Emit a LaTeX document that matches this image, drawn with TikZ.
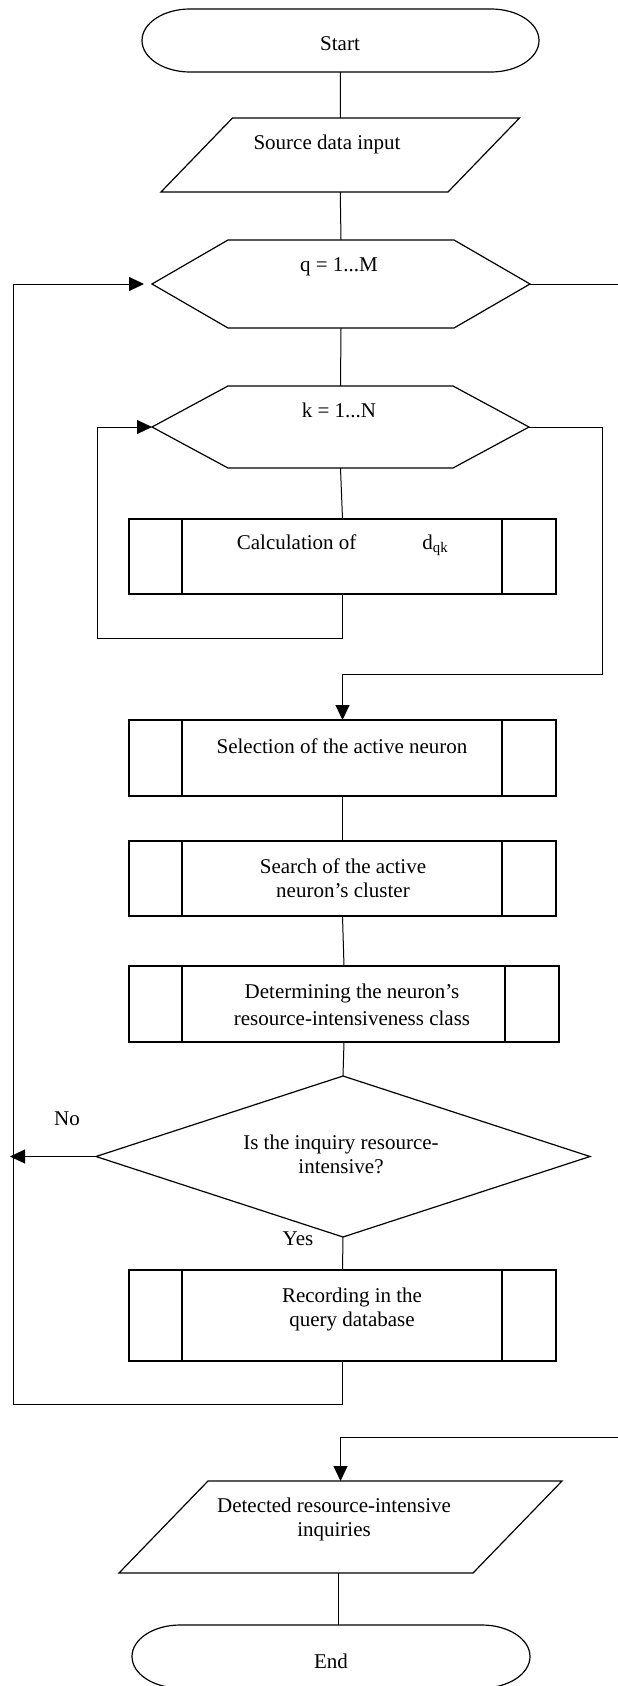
\documentclass[tikz,border=0pt]{standalone}
\usepackage{fontspec}
\setmainfont{Liberation Serif}
\usetikzlibrary{arrows.meta}
\tikzset{
  box/.style={inner sep=0pt, outer sep=0pt, draw=none},
  shp/.style={line width=1.2pt, line join=miter},
  con/.style={line width=1pt},
  arr/.style={con, -{Triangle[length=15pt,width=14pt]}},
  txt/.style={inner sep=0pt, align=center, font=\fontsize{21}{24}\selectfont},
}
\begin{document}
\begin{tikzpicture}[x=1pt,y=-1pt]
\useasboundingbox (0,0) rectangle (618,1686);
% ---------- shape frames ----------
\node[box, minimum width=397pt, minimum height=63pt] (start) at (340.5,40.5) {};
\node[box, minimum width=358.5pt, minimum height=74pt] (src) at (340.25,155) {};
\node[box, minimum width=378pt, minimum height=88pt] (hexq) at (341,284) {};
\node[box, minimum width=377pt, minimum height=82pt] (hexk) at (340.5,427) {};
\node[box, draw, shp, minimum width=427pt, minimum height=75pt] (calc) at (342.5,556.5) {};
\node[box, draw, shp, minimum width=427pt, minimum height=76pt] (sel) at (342.5,758) {};
\node[box, draw, shp, minimum width=427pt, minimum height=75pt] (srch) at (342.5,878.5) {};
\node[box, draw, shp, minimum width=430pt, minimum height=76pt] (det) at (344,1004) {};
\node[box, minimum width=494pt, minimum height=161pt] (dia) at (343,1156.5) {};
\node[box, draw, shp, minimum width=427pt, minimum height=91pt] (rec) at (342.5,1315.5) {};
\node[box, minimum width=443pt, minimum height=92pt] (out) at (340.5,1527) {};
\node[box, minimum width=398pt, minimum height=63pt] (end) at (331,1656.5) {};
% ---------- outlines ----------
\foreach \n in {start,end}{
  \draw[shp] ([xshift=48pt]\n.north west) -- ([xshift=-48pt]\n.north east)
    arc[start angle=90, end angle=-90, x radius=48pt, y radius=31.5pt]
    -- ([xshift=48pt]\n.south west)
    arc[start angle=270, end angle=90, x radius=48pt, y radius=31.5pt] -- cycle;
}
\draw[shp] ([xshift=71.5pt]src.north west) -- (src.north east)
  -- ([xshift=-71.5pt]src.south east) -- (src.south west) -- cycle;
\draw[shp] ([xshift=89pt]out.north west) -- (out.north east)
  -- ([xshift=-89pt]out.south east) -- (out.south west) -- cycle;
\foreach \n in {hexq,hexk}{
  \draw[shp] (\n.west) -- ([xshift=76pt]\n.north west) -- ([xshift=-76pt]\n.north east)
    -- (\n.east) -- ([xshift=-76pt]\n.south east) -- ([xshift=76pt]\n.south west) -- cycle;
}
\foreach \n in {calc,sel,srch,det,rec}{
  \draw[shp] ([xshift=53pt]\n.north west) -- ([xshift=53pt]\n.south west);
  \draw[shp] ([xshift=-54pt]\n.north east) -- ([xshift=-54pt]\n.south east);
}
\draw[shp] (dia.north) -- (dia.east) -- (dia.south) -- (dia.west) -- cycle;
% ---------- texts ----------
\node[txt] (tstart) at (340,44) {Start};
\node[txt] (tsrc) at (327,144) {Source data input};
\node[txt] (thexq) at (339,267) {q = 1...M};
\node[txt] (thexk) at (339,410) {k = 1...N};
\node[txt] (tcalc) at (342.5,545) {Calculation of\hspace{66pt}d\textsubscript{qk}};
\node[txt] (tsel) at (342,746) {Selection of the active neuron};
\node[txt] (tsrch) at (343,878) {Search of the active\\neuron’s cluster};
\node[txt] (tdet) at (352,1005) {Determining the neuron’s\\[3pt]resource-intensiveness class};
\node[txt] (tdia) at (341,1154) {Is the inquiry resource-\\intensive?};
\node[txt] (trec) at (352,1309) {Recording in the\\query database};
\node[txt] (tout) at (334,1519) {Detected resource-intensive\\inquiries};
\node[txt] (tend) at (331,1661) {End};
\node[txt] (tno) at (67,1119) {No};
\node[txt] (tyes) at (298,1239) {Yes};
% ---------- coordinates ----------
\coordinate (kl) at (97,638);
\coordinate (kr) at (602,674);
\coordinate (nol) at (10,1156.5);
\coordinate (ol) at (13,1404);
\coordinate (qr) at (618,284);
\coordinate (qr2) at (618,1437);
% ---------- connectors ----------
\draw[con] (start.south) -- (src.north);
\draw[con] (src.south) -- (hexq.north);
\draw[con] (hexq.south) -- (hexk.north);
\draw[con] (hexk.south) -- (calc.north);
\draw[arr] (calc.south) |- (kl) |- (hexk.west);
\draw[arr] (hexk.east) -| (kr) -| (sel.north);
\draw[con] (sel.south) -- (srch.north);
\draw[con] (srch.south) -- (det.north);
\draw[con] (det.south) -- (dia.north);
\draw[arr] (dia.west) -- (nol);
\draw[con] (dia.south) -- (rec.north);
\draw[arr, shorten >=8pt] (rec.south) |- (ol) |- (hexq.west);
\draw[con] (hexq.east) -- (qr);
\draw[arr] (qr2) -| (out.north);
\draw[con] ([xshift=-2pt]out.south) -- ([xshift=-2pt]out.south |- end.north);
\end{tikzpicture}
\end{document}
